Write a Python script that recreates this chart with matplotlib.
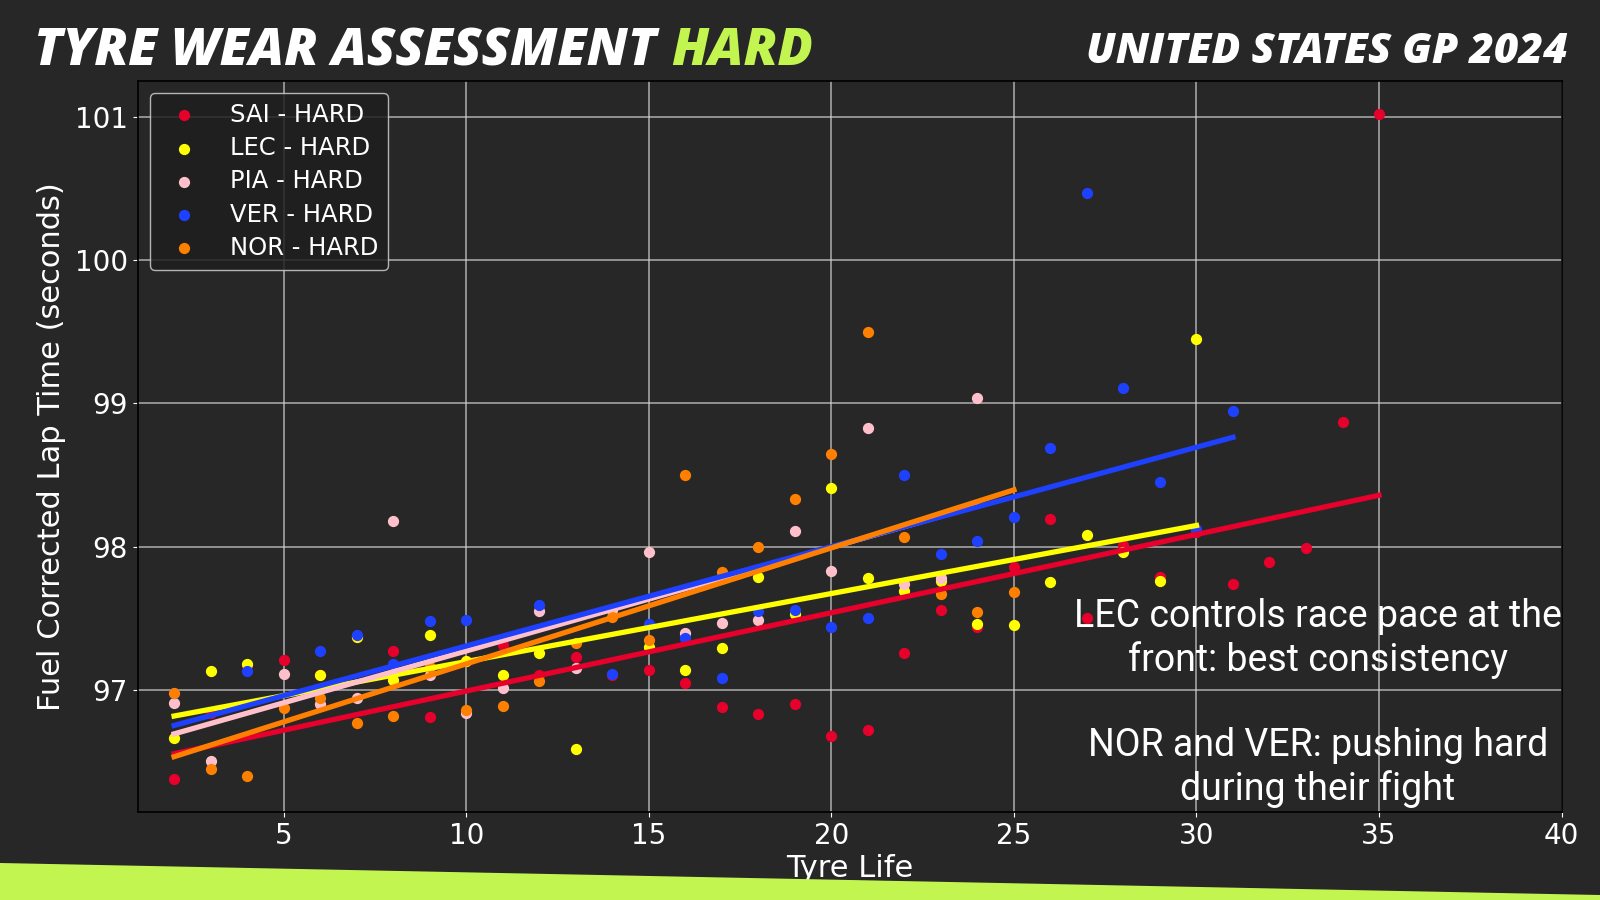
import numpy as np
import matplotlib
matplotlib.use("Agg")
import matplotlib.pyplot as plt
from matplotlib.patches import Polygon


# ----- DATA -----
drivers = ["SAI", "LEC", "PIA", "VER", "NOR"]
compound = "HARD"
colors = {"SAI": "#e8002d", "LEC": "#ffff00", "PIA": "#ffc0cb",
          "VER": "#1e41ff", "NOR": "#ff8000"}

# a few laps sit underneath other dots/lines in the picture; values estimated
sai_life = [2, 3, 4, 5, 6, 7, 8, 9, 10, 11, 12, 13, 14, 15, 16, 17, 18, 19, 20, 21,
            22, 23, 24, 25, 26, 27, 28, 29, 30, 31, 32, 33, 34, 35]
sai_time = [96.38, 96.84, 97.17, 97.21, 97.10, 97.37, 97.27, 96.81, 97.20, 97.31,
            97.10, 97.23, 97.10, 97.14, 97.05, 96.88, 96.83, 96.90, 96.68, 96.72,
            97.26, 97.56, 97.44, 97.86, 98.19, 97.50, 98.01, 97.79, 98.10, 97.74,
            97.89, 97.99, 98.87, 101.02]

lec_life = [2, 3, 4, 6, 7, 8, 9, 10, 11, 12, 13, 15, 16, 17, 18, 19, 20, 21, 22,
            23, 24, 25, 26, 27, 28, 29, 30]
lec_time = [96.66, 97.13, 97.18, 97.10, 97.37, 97.07, 97.38, 97.20, 97.10, 97.26,
            96.59, 97.30, 97.14, 97.29, 97.79, 97.53, 98.41, 97.78, 97.69, 97.76,
            97.46, 97.45, 97.75, 98.08, 97.96, 97.76, 99.45]

pia_life = [2, 3, 5, 6, 7, 8, 9, 10, 11, 12, 13, 14, 15, 16, 17, 18, 19, 20, 21,
            22, 23, 24]
pia_time = [96.91, 96.50, 97.11, 96.90, 96.94, 98.18, 97.10, 96.84, 97.01, 97.55,
            97.15, 97.56, 97.96, 97.40, 97.47, 97.49, 98.11, 97.83, 98.83, 97.74,
            97.78, 99.04]

ver_life = [2, 4, 6, 7, 8, 9, 10, 12, 14, 15, 16, 17, 18, 19, 20, 21, 22, 23, 24,
            25, 26, 27, 28, 29, 30, 31]
ver_time = [96.98, 97.13, 97.27, 97.38, 97.18, 97.48, 97.49, 97.59, 97.11, 97.46,
            97.36, 97.08, 97.55, 97.56, 97.44, 97.50, 98.50, 97.95, 98.04, 98.21,
            98.69, 100.47, 99.11, 98.45, 98.12, 98.95]

nor_life = [2, 3, 4, 5, 6, 7, 8, 9, 10, 11, 12, 13, 14, 15, 16, 17, 18, 19, 20,
            21, 22, 23, 24, 25]
nor_time = [96.98, 96.45, 96.40, 96.87, 96.94, 96.77, 96.82, 97.16, 96.86, 96.89,
            97.06, 97.33, 97.51, 97.35, 98.50, 97.82, 98.00, 98.33, 98.65, 99.50,
            98.07, 97.67, 97.54, 97.68]

laps = {"SAI": (sai_life, sai_time), "LEC": (lec_life, lec_time),
        "PIA": (pia_life, pia_time), "VER": (ver_life, ver_time),
        "NOR": (nor_life, nor_time)}

notes = ["LEC controls race pace at the\nfront: best consistency",
         "NOR and VER: pushing hard\nduring their fight"]

BG = "#272727"
ACCENT = "#c3f550"

# ----- FIGURE -----
fig = plt.figure(figsize=(16, 9), dpi=100, facecolor=BG)
ax = fig.add_axes([0.086, 0.098, 0.89, 0.812])
ax.set_facecolor(BG)

# green band at the bottom
fig.patches.append(Polygon([[0, 0], [1, 0], [1, 1 - 895 / 900], [0, 1 - 863 / 900]],
                           closed=True, transform=fig.transFigure,
                           facecolor=ACCENT, edgecolor="none", zorder=0))

for drv in drivers:
    x = np.array(laps[drv][0], dtype=float)
    y = np.array(laps[drv][1], dtype=float)
    ax.scatter(x, y, s=50, color=colors[drv], label=f"{drv} - {compound}", zorder=2)
    # simple linear fit of lap time vs tyre age, drawn above all the dots
    k, b = np.polyfit(x, y, 1)
    xs = np.array([x.min(), x.max()])
    ax.plot(xs, k * xs + b, color=colors[drv], lw=3.8, zorder=3)

ax.set_xlim(1, 40)
ax.set_xticks([5, 10, 15, 20, 25, 30, 35, 40])
ax.set_yticks([97, 98, 99, 100, 101])
ax.grid(True, color="#d0d0d0", lw=1.1, alpha=0.8, zorder=1)
ax.set_axisbelow(True)
for sp in ax.spines.values():
    sp.set_color("black")
    sp.set_linewidth(1.2)
ax.tick_params(colors="white", labelsize=20)

ax.set_xlabel("Tyre Life", color="white", fontsize=22, labelpad=3)
ax.set_ylabel("Fuel Corrected Lap Time (seconds)", color="white", fontsize=22, labelpad=6)

leg = ax.legend(loc="upper left", fontsize=17.5, facecolor="#1e1e1e",
                edgecolor="#cfcfcf", framealpha=0.85, labelcolor="white",
                handletextpad=0.9, labelspacing=0.38)

# annotations on the right
ax.text(0.829, 0.237, notes[0], transform=ax.transAxes, ha="center", va="center",
        color="white", fontsize=27, family="Roboto", linespacing=1.2, zorder=5)
ax.text(0.829, 0.061, notes[1], transform=ax.transAxes, ha="center", va="center",
        color="white", fontsize=27, family="Roboto", linespacing=1.2, zorder=5)

# ----- TITLES -----
title_kw = dict(fontweight="heavy", style="italic", family="Open Sans", va="baseline")
t1 = fig.text(0.021, 1 - 65 / 900, "TYRE WEAR ASSESSMENT", color="white",
              fontsize=37.5, **title_kw)
fig.canvas.draw()
bb = t1.get_window_extent()
fig.text((bb.x1 + 15) / fig.bbox.width, 1 - 65 / 900, compound, color=ACCENT,
         fontsize=37.5, **title_kw)
fig.text(0.98, 1 - 63 / 900, "UNITED STATES GP 2024", color="white", ha="right",
         fontsize=30.5, **title_kw)

plt.savefig("out.png", dpi=100, facecolor=BG)
